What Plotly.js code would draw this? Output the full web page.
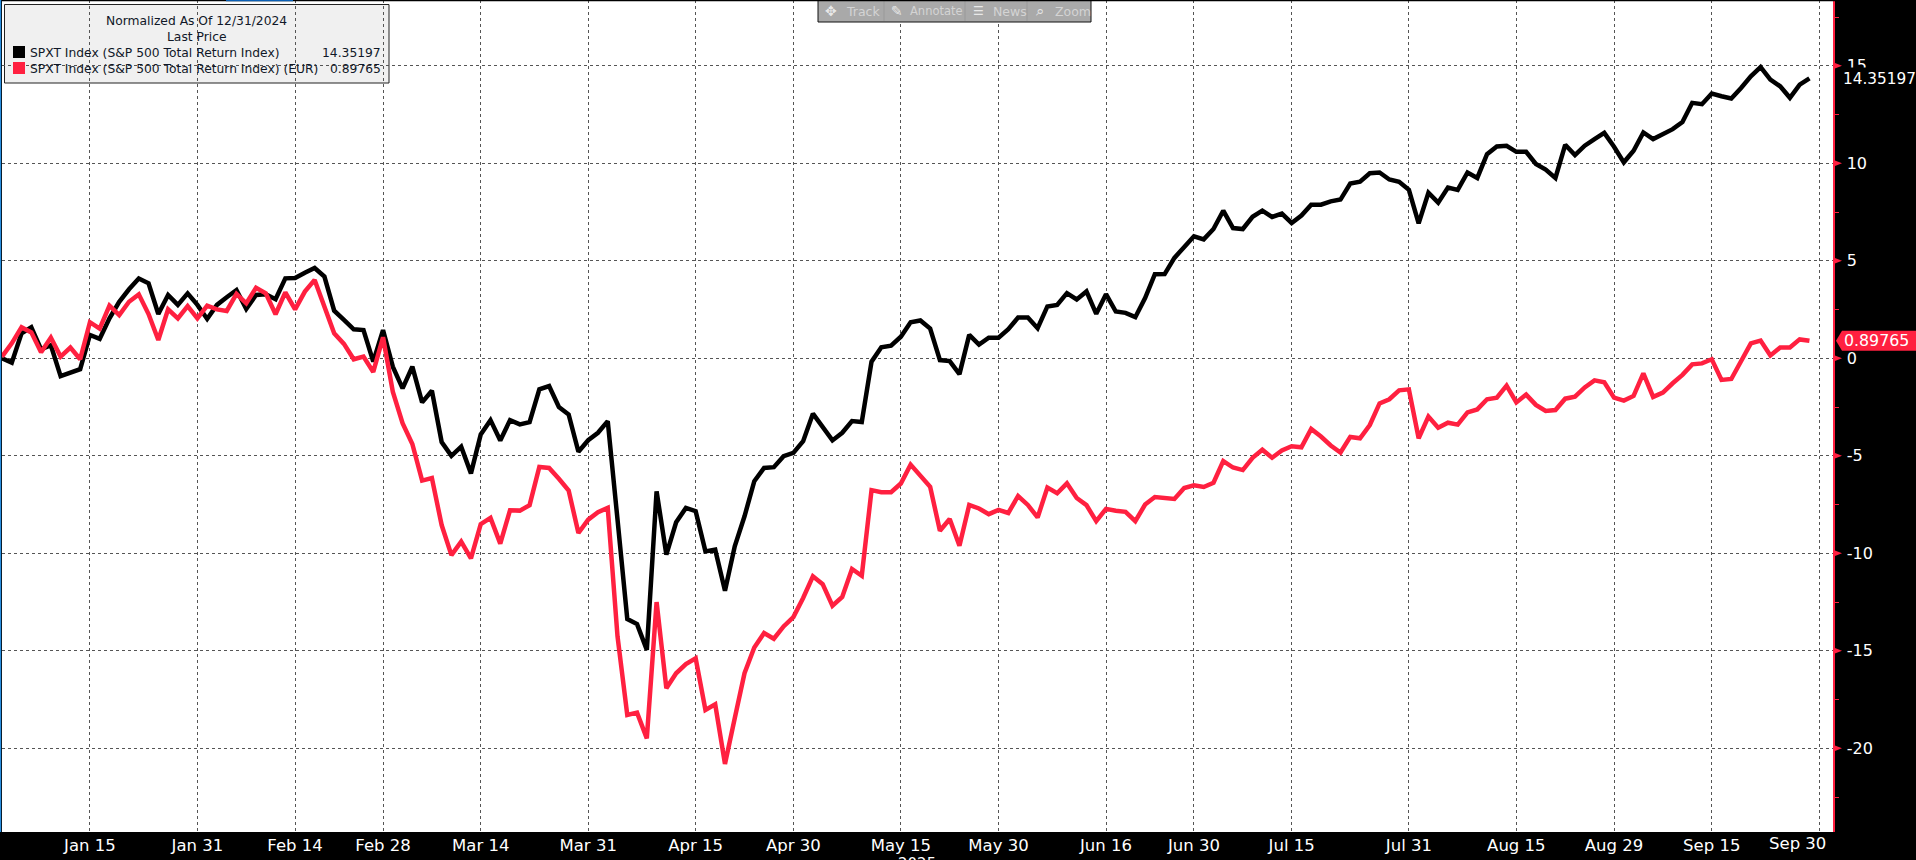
<!DOCTYPE html>
<html>
<head>
<meta charset="utf-8">
<script src="https://cdn.plot.ly/plotly-3.0.1.min.js"></script>
<style>html,body{margin:0;padding:0;background:#000;overflow:hidden}#chart{width:1916px;height:860px}</style>
</head>
<body>
<div id="chart"></div>
<script>
var spxtUsd = [0,-0.22,1.28,1.59,0.46,0.67,-0.91,-0.74,-0.56,1.2,1.0,2.05,2.9,3.54,4.09,3.85,2.27,3.25,2.74,3.33,2.74,2.02,2.74,3.13,3.5,2.53,3.25,3.28,3.03,4.1,4.12,4.39,4.63,4.19,2.44,1.97,1.49,1.45,-0.17,1.45,-0.43,-1.54,-0.43,-2.26,-1.66,-4.29,-5.0,-4.53,-5.9,-3.9,
-3.17,-4.21,-3.17,-3.39,-3.27,-1.59,-1.42,-2.5,-2.88,-4.79,-4.2,-3.82,-3.22,-8.27,-13.37,-13.63,-14.95,-6.82,-10.07,-8.41,-7.67,-7.84,-9.9,-9.81,-11.92,-9.64,-8.1,-6.3,-5.62,-5.58,-5.02,-4.85,-4.25,-2.84,-3.53,-4.21,-3.82,-3.22,-3.27,-0.17,
0.57,0.65,1.11,1.85,1.94,1.53,-0.09,-0.14,-0.81,1.2,0.7,1.06,1.06,1.49,2.09,2.09,1.54,2.66,2.74,3.34,3.02,3.43,2.28,3.29,2.4,2.33,2.11,3.09,4.31,4.32,5.15,5.71,6.26,6.1,6.63,
7.57,6.68,6.63,7.26,7.57,7.25,7.42,6.94,7.32,7.88,7.88,8.05,8.14,8.96,9.06,9.49,9.53,9.17,9.05,8.64,6.92,8.49,7.98,8.76,8.64,9.53,9.25,10.47,10.86,10.9,10.59,10.59,9.97,9.68,9.25,10.95,10.42,10.9,11.24,11.56,10.85,10.05,10.64,11.58,11.24,11.49,11.75,12.12,13.1,13.03,13.58,13.44,13.32,13.86,14.46,14.93,14.29,13.95,13.36,14.03,14.35197];
var spxtEur = [0.09,0.77,1.59,1.33,0.31,1.06,0.09,0.55,-0.05,1.85,1.52,2.7,2.22,2.9,3.28,2.27,0.94,2.51,2.05,2.68,2.05,2.7,2.51,2.43,3.3,2.82,3.62,3.33,2.26,3.38,2.51,3.42,4.02,2.65,1.28,0.74,-0.05,0.09,-0.7,1.08,-1.71,-3.33,-4.39,-6.27,-6.14,-8.55,-10.09,-9.4,-10.26,-8.5,
-8.18,-9.5,-7.79,-7.81,-7.53,-5.57,-5.62,-6.18,-6.78,-8.96,-8.27,-7.89,-7.67,-14.26,-18.29,-18.17,-19.49,-12.5,-16.92,-16.15,-15.68,-15.38,-18.03,-17.74,-20.8,-18.46,-16.15,-14.83,-14.09,-14.38,-13.75,-13.27,-12.29,-11.18,-11.58,-12.69,-12.24,-10.8,-11.15,-6.76,
-6.87,-6.87,-6.42,-5.45,-6.04,-6.59,-8.84,-8.24,-9.61,-7.52,-7.7,-7.99,-7.77,-7.93,-7.06,-7.52,-8.16,-6.63,-6.92,-6.41,-7.16,-7.53,-8.35,-7.72,-7.82,-7.87,-8.35,-7.5,-7.11,-7.16,-7.21,-6.65,-6.51,-6.6,-6.38,
-5.27,-5.6,-5.73,-5.1,-4.69,-5.1,-4.73,-4.51,-4.56,-3.62,-4.01,-4.47,-4.83,-4.03,-4.1,-3.42,-2.31,-2.1,-1.64,-1.59,-4.1,-2.99,-3.56,-3.3,-3.4,-2.77,-2.62,-2.1,-2.02,-1.4,-2.26,-1.86,-2.39,-2.7,-2.65,-2.07,-1.97,-1.49,-1.13,-1.23,-2.02,-2.17,-1.93,-0.77,-1.98,-1.76,-1.28,-0.85,-0.31,-0.26,-0.05,-1.11,-1.06,-0.09,0.77,0.91,0.15,0.55,0.55,0.97,0.89765];
var tickPositions = [9,20,30,39,49,60,71,81,92,102,113,122,132,144,155,165,175,186];
var tickLabels = ["Jan 15","Jan 31","Feb 14","Feb 28","Mar 14","Mar 31","Apr 15","Apr 30","May 15","May 30","Jun 16","Jun 30","Jul 15","Jul 31","Aug 15","Aug 29","Sep 15","Sep 30"];
var yTicks = [-20,-15,-10,-5,0,5,10,15];
var seriesNames = ["SPXT Index (S&P 500 Total Return Index)","SPXT Index (S&P 500 Total Return Index) (EUR)"];
var lastPrices = ["14.35197","0.89765"];
var RED = "#ff2040", FONT = "DejaVu Sans";
var W = 1916, H = 860, L = 2, R = 1833, B = 832;
function tradingDays(a){return a.map(function(_,i){return i})}
function fx(p){return (p-L)/(R-L)}       // page x -> paper x
function fy(p){return (B-p)/B}           // page y -> paper y

var traces = [
 {x:tradingDays(spxtUsd),y:spxtUsd,mode:"lines",name:seriesNames[0],line:{color:"#000",width:4.5,shape:"linear"},hoverinfo:"skip"},
 {x:tradingDays(spxtEur),y:spxtEur,mode:"lines",name:seriesNames[1],line:{color:RED,width:4.5,shape:"linear"},hoverinfo:"skip"}
];

var shapes = [], ann = [];
function rect(x0,y0,x1,y1,fill,line,layer){shapes.push({type:"rect",xref:"paper",yref:"paper",x0:fx(x0),x1:fx(x1),y0:fy(y0),y1:fy(y1),fillcolor:fill,line:line||{width:0},layer:layer||"above"})}
function text(t,x,y,anchor,size,color,font){ann.push({text:t,xref:"paper",yref:"paper",x:fx(x),y:fy(y),xanchor:anchor,yanchor:"middle",showarrow:false,font:{family:font||FONT,size:size,color:color},borderpad:0})}

// legend box, under the gridlines
shapes.push({type:"rect",xref:"paper",yref:"paper",x0:fx(4.5),x1:fx(389),y0:fy(4.5),y1:fy(83),fillcolor:"#f0f0f0",line:{color:"#222",width:1},layer:"below"});
rect(13,46,25,58,"#000");
rect(13,62,25,74,RED);
var LEG="#101828", LS=12.3;
text("Normalized As Of 12/31/2024",196,21,"center",LS,LEG);
text("Last Price",197,37,"center",LS,LEG);
text(seriesNames[0],29,53,"left",LS,LEG);
text(seriesNames[1],29,69,"left",LS,LEG);
text(lastPrices[0],381.5,53,"right",LS,LEG);
text(lastPrices[1],381.5,69,"right",LS,LEG);

// toolbar
rect(818,0,1091,22,"#a9a9a9",{color:"#111",width:1});
[884,965,1027].forEach(function(x){rect(x-0.5,1,x+0.5,21,"#999")});
var TB="#d4d4d4";
text("\u2725",831,11,"center",14,"#e8e8e8");
text("Track",845,11,"left",12.5,TB);
text("\u270E",897,11,"center",14,"#e8e8e8");
text("Annotate",909,11,"left",11.5,TB);
text("\u2630",978,11,"center",12,"#e8e8e8");
text("News",992,11,"left",12.5,TB);
text("\u2315",1040,11,"center",15,"#e8e8e8");
text("Zoom",1054,11,"left",12.5,TB);

// edges
rect(0,0,1916,1.2,"#000");
rect(226,0,293,1.2,"#0a5fb4");
rect(0,0,1.2,832,"#2a8fe0");

// axis markers
yTicks.forEach(function(v){
 shapes.push({type:"path",xref:"paper",yref:"y",xsizemode:"pixel",ysizemode:"pixel",xanchor:1,yanchor:v,path:"M 0,-3.5 L 9,0 L 0,3.5 Z",fillcolor:RED,line:{width:0},layer:"above"});
});

// last-price tags
ann.push({text:lastPrices[0],xref:"paper",yref:"y",x:1,y:spxtUsd[spxtUsd.length-1],xanchor:"left",yanchor:"middle",xshift:7,yshift:-1,showarrow:false,font:{family:FONT,size:15.3,color:"#fff"},bgcolor:"#000",borderpad:2});
shapes.push({type:"path",xref:"paper",yref:"y",xsizemode:"pixel",ysizemode:"pixel",xanchor:1,yanchor:spxtEur[spxtEur.length-1],path:"M 3,0 L 9,-10 L 83,-10 L 83,10 L 9,10 Z",fillcolor:RED,line:{width:0},layer:"above"});
ann.push({text:lastPrices[1],xref:"paper",yref:"y",x:1,y:spxtEur[spxtEur.length-1],xanchor:"left",yanchor:"middle",xshift:9,showarrow:false,font:{family:FONT,size:15.8,color:"#fff"}});

// year label cut by the bottom edge
ann.push({text:"2025",xref:"paper",yref:"paper",x:fx(917),y:fy(864),xanchor:"center",yanchor:"middle",showarrow:false,font:{family:FONT,size:15,color:"#fff"}});

// the last date label stays clear of the right edge of the plot
var lastIdx = tickLabels.length-1;
var shownLabels = tickLabels.map(function(t,i){return i===lastIdx?" ":t});
ann.push({text:tickLabels[lastIdx],xref:"x",yref:"paper",x:tickPositions[lastIdx],y:fy(843.5),xanchor:"center",yanchor:"middle",xshift:-22,showarrow:false,font:{family:FONT,size:16.5,color:"#fff"}});

var layout = {
 width:W,height:H,
 margin:{l:L,r:W-R,t:0,b:H-B,pad:0,autoexpand:false},
 paper_bgcolor:"#000",plot_bgcolor:"#fff",showlegend:false,
 xaxis:{range:[0,187.41],tickmode:"array",tickvals:tickPositions,ticktext:shownLabels,showgrid:true,gridcolor:"#555",griddash:"3px,3px",gridwidth:1,zeroline:false,ticks:"",showline:false,tickfont:{family:FONT,size:16.5,color:"#fff"},ticklabelstandoff:1,automargin:false,tickangle:0,fixedrange:true},
 yaxis:{side:"right",range:[-24.29,18.374],tickmode:"array",tickvals:yTicks,ticktext:yTicks.map(String),showgrid:true,gridcolor:"#555",griddash:"3px,3px",gridwidth:1,zeroline:false,showline:true,linecolor:RED,linewidth:1.5,ticks:"outside",ticklen:0,tickcolor:RED,tickfont:{family:FONT,size:16,color:"#fff"},ticklabelstandoff:9,automargin:false,fixedrange:true,
  minor:{tickmode:"array",tickvals:[-22.5,-17.5,-12.5,-7.5,-2.5,2.5,7.5,12.5,17.5],ticks:"outside",ticklen:4,tickcolor:RED,tickwidth:1,showgrid:false}},
 shapes:shapes,annotations:ann
};
Plotly.newPlot("chart",traces,layout,{displayModeBar:false,staticPlot:true});
</script>
</body>
</html>
